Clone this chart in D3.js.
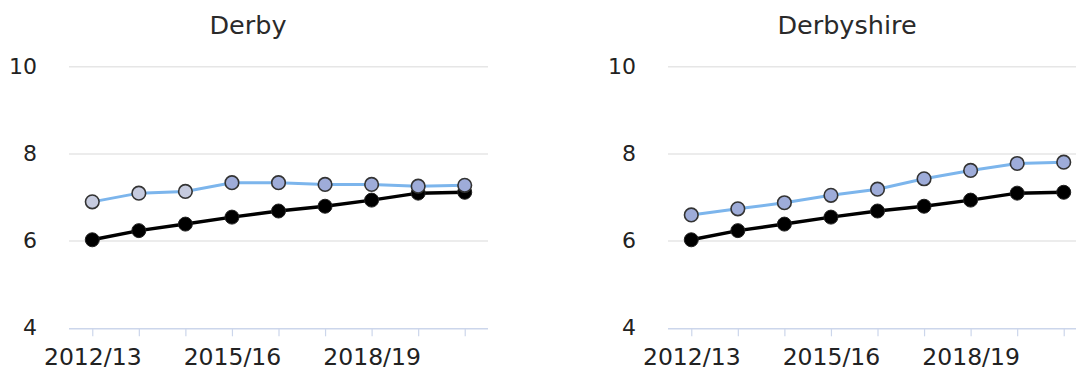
<!DOCTYPE html>
<html>
<head>
<meta charset="utf-8">
<script src="https://cdn.jsdelivr.net/npm/d3@7"></script>
<style>
  html, body { margin: 0; padding: 0; background: #fff; overflow: hidden; }
  svg { display: block; }
</style>
</head>
<body>
<svg id="chart" width="1076" height="372"></svg>
<script>
// Financial years on the x axis
const years = ["2012/13", "2013/14", "2014/15", "2015/16", "2016/17", "2017/18", "2018/19", "2019/20", "2020/21"];
// Only every third year is labelled
const labelledYears = ["2012/13", "2015/16", "2018/19"];
const yTicks = [4, 6, 8, 10];

// Area values
const derbyValues = [6.90, 7.10, 7.14, 7.34, 7.34, 7.30, 7.30, 7.26, 7.28];
const derbyshireValues = [6.60, 6.74, 6.88, 7.05, 7.19, 7.43, 7.62, 7.78, 7.81];
// England comparator
const englandValues = [6.03, 6.24, 6.39, 6.55, 6.69, 6.80, 6.94, 7.10, 7.12];

// Comparison of each area value against England
const derbyCompare = ["similar", "similar", "similar", "higher", "higher", "higher", "higher", "higher", "higher"];
const derbyshireCompare = ["higher", "higher", "higher", "higher", "higher", "higher", "higher", "higher", "higher"];

const panels = [
  { title: "Derby", values: derbyValues, compare: derbyCompare, offset: 0 },
  { title: "Derbyshire", values: derbyshireValues, compare: derbyshireCompare, offset: 599 }
];

const compareFill = { similar: "#c6cbdf", higher: "#9eacd9" };

const svg = d3.select("#chart");
const font = "'DejaVu Sans', Verdana, sans-serif";

const plotLeft = 69, plotWidth = 419, plotTop = 66.7, plotBottom = 328.3;

const x = d3.scalePoint().domain(years).range([0, plotWidth]).padding(0.5);
const y = d3.scaleLinear().domain([4, 10]).range([plotBottom, plotTop]);

panels.forEach(p => {
  const g = svg.append("g").attr("transform", `translate(${p.offset},0)`);

  // Title
  g.append("text")
    .attr("x", 248).attr("y", 34)
    .attr("text-anchor", "middle")
    .attr("font-family", font)
    .attr("font-size", 25.5)
    .attr("fill", "#2a2a2a")
    .text(p.title);

  const plot = g.append("g").attr("transform", `translate(${plotLeft},0)`);

  // Horizontal gridlines
  plot.append("g")
    .selectAll("line")
    .data(yTicks.filter(t => t !== 4))
    .join("line")
    .attr("x1", 0).attr("x2", plotWidth)
    .attr("y1", d => y(d)).attr("y2", d => y(d))
    .attr("stroke", "#e6e6e6").attr("stroke-width", 1.5);

  // Y axis labels
  const yAxis = d3.axisLeft(y).tickValues(yTicks).tickSize(0).tickPadding(0).tickFormat(d3.format("d"));
  const ya = plot.append("g").attr("transform", `translate(-32,0)`).call(yAxis);
  ya.select(".domain").remove();
  ya.selectAll("text")
    .attr("font-family", font).attr("font-size", 22).attr("fill", "#222")
    .attr("dy", "0.3em");

  // X axis
  const xAxis = d3.axisBottom(x).tickSize(8).tickPadding(12)
    .tickFormat(d => labelledYears.includes(d) ? d : "");
  const xa = plot.append("g").attr("transform", `translate(0,${plotBottom})`).call(xAxis);
  xa.select(".domain")
    .attr("d", `M0,0.5H${plotWidth}`)
    .attr("stroke", "#ccd6eb").attr("stroke-width", 1.5);
  xa.selectAll(".tick line").attr("stroke", "#ccd6eb").attr("stroke-width", 1.2);
  xa.selectAll("text")
    .attr("font-family", font).attr("font-size", 23.5).attr("fill", "#222");

  const line = d3.line().x((d, i) => x(years[i])).y(d => y(d));

  // England comparator series
  plot.append("path")
    .datum(englandValues)
    .attr("d", line)
    .attr("fill", "none").attr("stroke", "#000").attr("stroke-width", 3.5);
  plot.append("g")
    .selectAll("circle")
    .data(englandValues)
    .join("circle")
    .attr("cx", (d, i) => x(years[i])).attr("cy", d => y(d))
    .attr("r", 7)
    .attr("fill", "#000").attr("stroke", "#222").attr("stroke-width", 1);

  // Area series
  plot.append("path")
    .datum(p.values)
    .attr("d", line)
    .attr("fill", "none").attr("stroke", "#7cb5ec").attr("stroke-width", 3);
  plot.append("g")
    .selectAll("circle")
    .data(p.values)
    .join("circle")
    .attr("cx", (d, i) => x(years[i])).attr("cy", d => y(d))
    .attr("r", 6.8)
    .attr("fill", (d, i) => compareFill[p.compare[i]])
    .attr("stroke", "#333").attr("stroke-width", 1.6);
});
</script>
</body>
</html>
